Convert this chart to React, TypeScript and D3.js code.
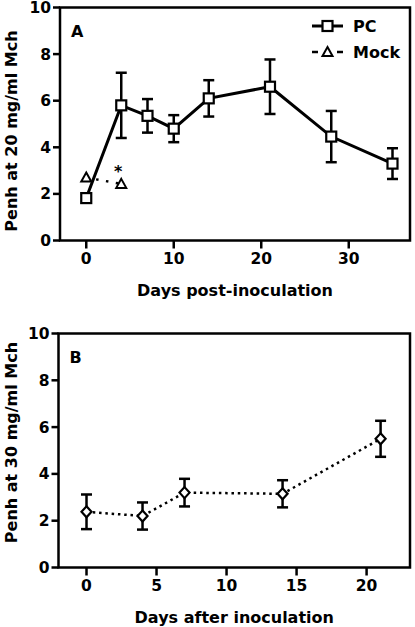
import React from "react";
import * as d3 from "d3";

// Panel A: Penh at 20 mg/ml Mch
const pcDays = [0, 4, 7, 10, 14, 21, 28, 35];
const pcMean = [1.82, 5.8, 5.35, 4.8, 6.1, 6.6, 4.46, 3.3];
const pcErr = [0.2, 1.4, 0.72, 0.58, 0.78, 1.17, 1.1, 0.66];
const mockDays = [0, 4];
const mockMean = [2.7, 2.43];
const aXTicks = [0, 10, 20, 30];

// Panel B: Penh at 30 mg/ml Mch
const bDays = [0, 4, 7, 14, 21];
const bMean = [2.38, 2.2, 3.2, 3.15, 5.5];
const bErr = [0.74, 0.58, 0.59, 0.58, 0.77];
const bXTicks = [0, 5, 10, 15, 20];

const yTicks = [0, 2, 4, 6, 8, 10];

const FONT = "'DejaVu Sans', sans-serif";

type PanelProps = {
  left: number;
  right: number;
  top: number;
  bottom: number;
  xDomain: [number, number];
  xTicks: number[];
  yTitle: string;
  xTitle: string;
  letter: string;
  yTitleCenter: number;
  children: (x: d3.ScaleLinear<number, number>, y: d3.ScaleLinear<number, number>) => React.ReactNode;
};

function Panel(p: PanelProps) {
  const x = d3.scaleLinear().domain(p.xDomain).range([p.left, p.right]);
  const y = d3.scaleLinear().domain([0, 10]).range([p.bottom, p.top]);
  return (
    <g>
      <rect x={p.left} y={p.top} width={p.right - p.left} height={p.bottom - p.top} fill="none" stroke="#000" strokeWidth={2.5} />
      {yTicks.map((t) => (
        <g key={"y" + t}>
          <line x1={p.left - 7} x2={p.left} y1={y(t)} y2={y(t)} stroke="#000" strokeWidth={2.5} />
          <text x={p.left - 9} y={y(t)} dy="0.36em" textAnchor="end" fontFamily={FONT} fontWeight="bold" fontSize={15.5}>
            {t}
          </text>
        </g>
      ))}
      {p.xTicks.map((t) => (
        <g key={"x" + t}>
          <line x1={x(t)} x2={x(t)} y1={p.bottom} y2={p.bottom + 8} stroke="#000" strokeWidth={2.5} />
          <text x={x(t)} y={p.bottom + 23} textAnchor="middle" fontFamily={FONT} fontWeight="bold" fontSize={15.5}>
            {t}
          </text>
        </g>
      ))}
      <text x={(p.left + p.right) / 2} y={p.bottom + 55} textAnchor="middle" fontFamily={FONT} fontWeight="bold" fontSize={16}>
        {p.xTitle}
      </text>
      <text
        transform={`translate(17,${p.yTitleCenter}) rotate(-90)`}
        textAnchor="middle"
        fontFamily={FONT}
        fontWeight="bold"
        fontSize={16}
      >
        {p.yTitle}
      </text>
      <text x={p.left + 11} y={p.top + 29} fontFamily={FONT} fontWeight="bold" fontSize={16}>
        {p.letter}
      </text>
      {p.children(x, y)}
    </g>
  );
}

function ErrBar({ x, y0, y1 }: { x: number; y0: number; y1: number }) {
  return (
    <g stroke="#000" strokeWidth={2.5}>
      <line x1={x} x2={x} y1={y0} y2={y1} />
      <line x1={x - 5.5} x2={x + 5.5} y1={y0} y2={y0} />
      <line x1={x - 5.5} x2={x + 5.5} y1={y1} y2={y1} />
    </g>
  );
}

function Square({ cx, cy }: { cx: number; cy: number }) {
  return <rect x={cx - 5} y={cy - 5} width={10} height={10} fill="#fff" stroke="#000" strokeWidth={2.2} />;
}

function Triangle({ cx, cy }: { cx: number; cy: number }) {
  const p = `M${cx},${cy - 5} L${cx + 5},${cy + 4} L${cx - 5},${cy + 4} Z`;
  return <path d={p} fill="#fff" stroke="#000" strokeWidth={2} />;
}

function Diamond({ cx, cy }: { cx: number; cy: number }) {
  const p = `M${cx},${cy - 5.5} L${cx + 5},${cy} L${cx},${cy + 5.5} L${cx - 5},${cy} Z`;
  return <path d={p} fill="#fff" stroke="#000" strokeWidth={2.2} />;
}

export default function App() {
  const pcData = pcDays.map((d, i) => ({ d, m: pcMean[i], e: pcErr[i] }));
  const mockData = mockDays.map((d, i) => ({ d, m: mockMean[i] }));
  const bData = bDays.map((d, i) => ({ d, m: bMean[i], e: bErr[i] }));

  return (
    <svg width={415} height={627} style={{ position: "absolute", left: 0, top: 0, background: "#fff" }}>
      <rect width={415} height={627} fill="#fff" />
      <Panel
        left={60}
        right={410}
        top={7.5}
        bottom={240.5}
        xDomain={[-3, 37]}
        xTicks={aXTicks}
        yTitle="Penh at 20 mg/ml Mch"
        xTitle="Days post-inoculation"
        letter="A"
        yTitleCenter={131}
      >
        {(x, y) => {
          const line = d3
            .line<{ d: number; m: number }>()
            .x((r) => x(r.d))
            .y((r) => y(r.m));
          return (
            <g>
              <path d={line(mockData) || ""} fill="none" stroke="#000" strokeWidth={2.5} strokeDasharray="2.5,7.5" />
              {pcData.map((r) => (
                <ErrBar key={"e" + r.d} x={x(r.d)} y0={y(r.m + r.e)} y1={y(r.m - r.e)} />
              ))}
              <path d={line(pcData) || ""} fill="none" stroke="#000" strokeWidth={3} />
              {mockData.map((r) => (
                <Triangle key={"t" + r.d} cx={x(r.d)} cy={y(r.m)} />
              ))}
              {pcData.map((r) => (
                <Square key={"s" + r.d} cx={x(r.d)} cy={y(r.m)} />
              ))}
              <text x={x(mockDays[1]) - 3} y={y(mockMean[1]) - 7} textAnchor="middle" fontFamily={FONT} fontWeight="bold" fontSize={16}>
                *
              </text>
              <line x1={312} x2={343} y1={26} y2={26} stroke="#000" strokeWidth={3} />
              <Square cx={327.5} cy={26} />
              <text x={353} y={26} dy="0.36em" fontFamily={FONT} fontWeight="bold" fontSize={16}>
                PC
              </text>
              <line x1={312} x2={343} y1={52} y2={52} stroke="#000" strokeWidth={2.5} strokeDasharray="6,19" />
              <Triangle cx={327.5} cy={52} />
              <text x={353} y={52} dy="0.36em" fontFamily={FONT} fontWeight="bold" fontSize={16}>
                Mock
              </text>
            </g>
          );
        }}
      </Panel>
      <Panel
        left={58.5}
        right={410}
        top={333.5}
        bottom={567.5}
        xDomain={[-2, 23.1]}
        xTicks={bXTicks}
        yTitle="Penh at 30 mg/ml Mch"
        xTitle="Days after inoculation"
        letter="B"
        yTitleCenter={442.5}
      >
        {(x, y) => {
          const line = d3
            .line<{ d: number; m: number }>()
            .x((r) => x(r.d))
            .y((r) => y(r.m));
          return (
            <g>
              <path d={line(bData) || ""} fill="none" stroke="#000" strokeWidth={2.5} strokeDasharray="2.5,3.8" />
              {bData.map((r) => (
                <ErrBar key={"e" + r.d} x={x(r.d)} y0={y(r.m + r.e)} y1={y(r.m - r.e)} />
              ))}
              {bData.map((r) => (
                <Diamond key={"d" + r.d} cx={x(r.d)} cy={y(r.m)} />
              ))}
            </g>
          );
        }}
      </Panel>
    </svg>
  );
}
